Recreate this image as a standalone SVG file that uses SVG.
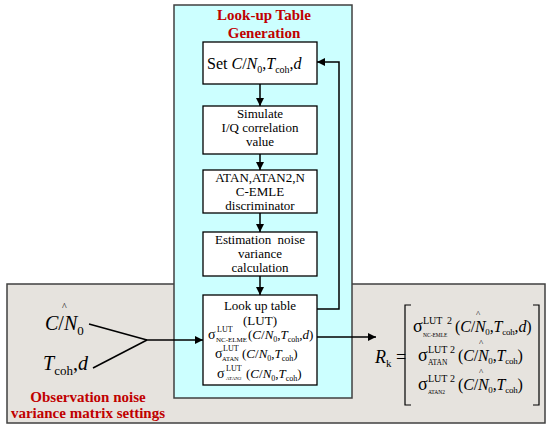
<svg xmlns="http://www.w3.org/2000/svg" width="550" height="427" viewBox="0 0 550 427">
<style>
.panel{stroke:#404040;stroke-width:1.5}
.box{fill:#fff;stroke:#000;stroke-width:1.3}
.t{font-family:"Liberation Serif","Times New Roman",serif;fill:#000}
.c{text-anchor:middle}
.red{font-family:"Liberation Serif","Times New Roman",serif;font-weight:bold;fill:#C00000;font-size:15px}
.i{font-style:italic}
.ln{stroke:#000;stroke-width:1.5;fill:none}
.br{stroke:#000;stroke-width:1.2;fill:none}
</style>
<defs>
<marker id="ah" viewBox="0 0 10 10" refX="10" refY="5" markerWidth="8" markerHeight="8" markerUnits="userSpaceOnUse" orient="auto">
<path d="M0,0 L10,5 L0,10 z" fill="#000"/>
</marker>
</defs>
<rect width="550" height="427" fill="#fff"/>
<g id="obs-panel">
<rect class="panel" x="7" y="284" width="538" height="139" fill="#E6E3DE"/>
<text class="red c" x="88" y="402">Observation noise</text>
<text class="red c" x="88" y="418">variance matrix settings</text>
</g>
<g id="lut-panel">
<rect class="panel" x="174" y="5" width="178" height="393" fill="#CCFFFF"/>
<text class="red c" x="264" y="20">Look-up Table</text>
<text class="red c" x="264" y="38">Generation</text>
</g>
<g id="connectors">
<line class="ln" x1="260" y1="84" x2="260" y2="106" marker-end="url(#ah)"/>
<line class="ln" x1="260" y1="154" x2="260" y2="170" marker-end="url(#ah)"/>
<line class="ln" x1="260" y1="213" x2="260" y2="232" marker-end="url(#ah)"/>
<line class="ln" x1="260" y1="276" x2="260" y2="295" marker-end="url(#ah)"/>
<polyline class="ln" points="317,309 339,309 339,62 317,62" marker-end="url(#ah)"/>
<line class="ln" x1="89" y1="324" x2="147" y2="340"/>
<line class="ln" x1="93" y1="368" x2="147" y2="340"/>
<line class="ln" x1="146" y1="340" x2="203" y2="340" marker-end="url(#ah)"/>
<line class="ln" x1="317" y1="337" x2="376" y2="337" marker-end="url(#ah)"/>
</g>
<g id="n-set">
<rect class="box" x="203" y="42" width="114" height="42"/>
<text class="t" x="207" y="69" font-size="16">Set <tspan class="i">C</tspan>/<tspan class="i">N</tspan><tspan font-size="10" dy="4">0</tspan><tspan dy="-4">,</tspan><tspan class="i">T</tspan><tspan font-size="10" dy="4">coh</tspan><tspan dy="-4">,</tspan><tspan class="i">d</tspan></text>
</g>
<g id="n-sim">
<rect class="box" x="203" y="106" width="114" height="48"/>
<text class="t c" x="260" y="118" font-size="13">Simulate</text>
<text class="t c" x="260" y="132" font-size="13">I/Q correlation</text>
<text class="t c" x="260" y="146" font-size="13">value</text>
</g>
<g id="n-disc">
<rect class="box" x="203" y="170" width="114" height="43"/>
<text class="t c" x="260" y="182" font-size="13">ATAN,ATAN2,N</text>
<text class="t c" x="260" y="196" font-size="13">C-EMLE</text>
<text class="t c" x="260" y="210" font-size="13">discriminator</text>
</g>
<g id="n-est">
<rect class="box" x="203" y="232" width="114" height="44"/>
<text class="t c" x="260" y="244" font-size="13" word-spacing="3">Estimation noise</text>
<text class="t c" x="260" y="258" font-size="13">variance</text>
<text class="t c" x="260" y="272" font-size="13">calculation</text>
</g>
<g id="n-lut">
<rect class="box" x="203" y="295" width="114" height="90"/>
<text class="t c" x="260" y="310" font-size="13">Look up table</text>
<text class="t c" x="260" y="325" font-size="13">(LUT)</text>
<text class="t" font-size="14"><tspan x="208" y="339">σ</tspan><tspan x="217" y="332" font-size="8">LUT</tspan><tspan x="216" y="342" font-size="7">NC-ELME</tspan><tspan x="248" y="339" font-size="13">(<tspan class="i">C</tspan>/<tspan class="i">N</tspan><tspan font-size="8" dy="3">0</tspan><tspan dy="-3">,</tspan><tspan class="i">T</tspan><tspan font-size="8" dy="3">coh</tspan><tspan dy="-3">,</tspan><tspan class="i">d</tspan>)</tspan></text>
<text class="t" font-size="14"><tspan x="215" y="358">σ</tspan><tspan x="223" y="351" font-size="8">LUT</tspan><tspan x="222" y="361" font-size="6.5">ATAN</tspan><tspan x="242" y="358" font-size="13">(<tspan class="i">C</tspan>/<tspan class="i">N</tspan><tspan font-size="8" dy="3">0</tspan><tspan dy="-3">,</tspan><tspan class="i">T</tspan><tspan font-size="8" dy="3">coh</tspan><tspan dy="-3">)</tspan></tspan></text>
<text class="t" font-size="14"><tspan x="217" y="378">σ</tspan><tspan x="226" y="371" font-size="8">LUT</tspan><tspan x="226" y="380" font-size="5">ATAN2</tspan><tspan x="246" y="378" font-size="13">(<tspan class="i">C</tspan>/<tspan class="i">N</tspan><tspan font-size="8" dy="3">0</tspan><tspan dy="-3">,</tspan><tspan class="i">T</tspan><tspan font-size="8" dy="3">coh</tspan><tspan dy="-3">)</tspan></tspan></text>
</g>
<g id="n-inputs">
<text class="t" font-size="20"><tspan x="45" y="330" class="i">C</tspan>/<tspan class="i">N</tspan><tspan font-size="13" dy="5">0</tspan><tspan x="62" y="310" font-size="10">^</tspan></text>
<text class="t" x="43" y="370" font-size="20"><tspan class="i">T</tspan><tspan font-size="13" dy="5">coh</tspan><tspan dy="-5">,</tspan><tspan class="i">d</tspan></text>
</g>
<g id="n-matrix">
<text class="t" x="375" y="363" font-size="18"><tspan class="i">R</tspan><tspan font-size="11" dy="4">k</tspan><tspan dy="-4"> =</tspan></text>
<polyline class="br" points="411,305 405,305 405,405 411,405"/>
<polyline class="br" points="533,305 539,305 539,405 533,405"/>
<text class="t" font-size="18"><tspan x="413" y="332">σ</tspan><tspan x="423" y="324" font-size="10">LUT</tspan><tspan x="423" y="337" font-size="5.5">NC-EMLE</tspan><tspan x="447" y="324" font-size="10">2</tspan><tspan x="455" y="332" font-size="16" letter-spacing="-0.2">(<tspan class="i">C</tspan>/<tspan class="i">N</tspan><tspan font-size="9" dy="3">0</tspan><tspan dy="-3">,</tspan><tspan class="i">T</tspan><tspan font-size="9" dy="3">coh</tspan><tspan dy="-3">,</tspan><tspan class="i">d</tspan>)</tspan><tspan x="476" y="317" font-size="9">^</tspan></text>
<text class="t" font-size="18"><tspan x="418" y="361">σ</tspan><tspan x="428" y="353" font-size="10">LUT</tspan><tspan x="428" y="365" font-size="7.5">ATAN</tspan><tspan x="450" y="353" font-size="10">2</tspan><tspan x="458" y="361" font-size="16" letter-spacing="-0.2">(<tspan class="i">C</tspan>/<tspan class="i">N</tspan><tspan font-size="9" dy="3">0</tspan><tspan dy="-3">,</tspan><tspan class="i">T</tspan><tspan font-size="9" dy="3">coh</tspan><tspan dy="-3">)</tspan></tspan><tspan x="479" y="346" font-size="9">^</tspan></text>
<text class="t" font-size="18"><tspan x="418" y="390">σ</tspan><tspan x="428" y="382" font-size="10">LUT</tspan><tspan x="428" y="394" font-size="5.5">ATAN2</tspan><tspan x="450" y="382" font-size="10">2</tspan><tspan x="458" y="390" font-size="16" letter-spacing="-0.2">(<tspan class="i">C</tspan>/<tspan class="i">N</tspan><tspan font-size="9" dy="3">0</tspan><tspan dy="-3">,</tspan><tspan class="i">T</tspan><tspan font-size="9" dy="3">coh</tspan><tspan dy="-3">)</tspan></tspan><tspan x="479" y="375" font-size="9">^</tspan></text>
</g>
</svg>
